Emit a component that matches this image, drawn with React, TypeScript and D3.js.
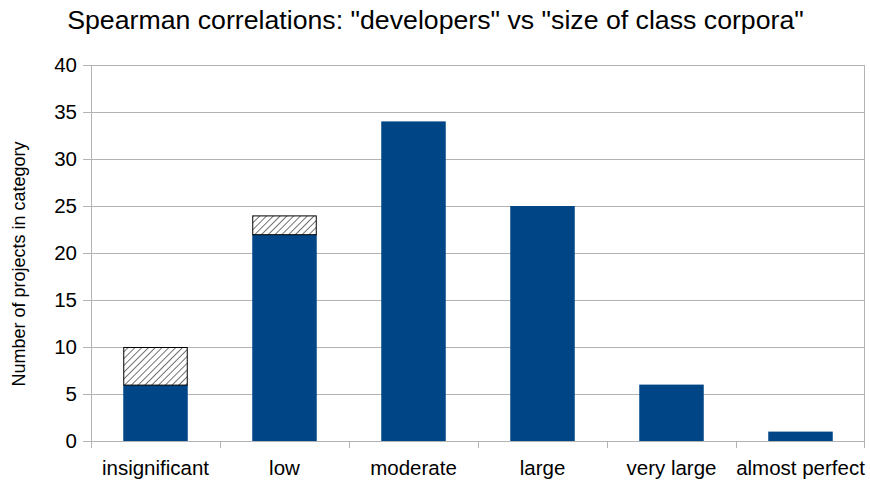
import { useEffect, useRef } from "react";
import * as d3 from "d3";

const categories = ["insignificant", "low", "moderate", "large", "very large", "almost perfect"];
const significant = [6, 22, 34, 25, 6, 1];
const hatched = [4, 2, 0, 0, 0, 0];
const yTicks = [0, 5, 10, 15, 20, 25, 30, 35, 40];

const App = () => {
  const ref = useRef<SVGSVGElement | null>(null);

  useEffect(() => {
    const width = 870;
    const height = 481;
    const margin = { top: 65, right: 5, bottom: 40, left: 91 };
    const innerW = width - margin.left - margin.right;
    const innerH = height - margin.top - margin.bottom;
    const font = "'Liberation Sans', Arial, sans-serif";

    const svg = d3.select(ref.current);
    svg.selectAll("*").remove();

    const defs = svg.append("defs");
    const hs = 4.8;
    const pat = defs
      .append("pattern")
      .attr("id", "hatch")
      .attr("patternUnits", "userSpaceOnUse")
      .attr("width", hs)
      .attr("height", hs)
      .attr("patternTransform", "rotate(45)");
    pat.append("rect").attr("width", hs).attr("height", hs).attr("fill", "#fff");
    pat.append("line").attr("x1", 0).attr("y1", 0).attr("x2", 0).attr("y2", hs).attr("stroke", "#000").attr("stroke-width", 1.1);

    const g = svg.append("g").attr("transform", `translate(${margin.left},${margin.top})`);

    const x = d3.scaleBand().domain(categories).range([0, innerW]).paddingInner(0.5).paddingOuter(0.25);
    const y = d3.scaleLinear().domain([0, 40]).range([innerH, 0]);

    // grid
    g.selectAll(".grid")
      .data(yTicks)
      .enter()
      .append("line")
      .attr("x1", -8)
      .attr("x2", innerW)
      .attr("y1", (d) => Math.round(y(d)) + 0.5)
      .attr("y2", (d) => Math.round(y(d)) + 0.5)
      .attr("stroke", "#b3b3b3");

    g.append("line")
      .attr("x1", 0.5)
      .attr("x2", 0.5)
      .attr("y1", 0)
      .attr("y2", innerH + 7)
      .attr("stroke", "#b3b3b3");
    g.append("line")
      .attr("x1", innerW - 0.5)
      .attr("x2", innerW - 0.5)
      .attr("y1", 0)
      .attr("y2", innerH + 7)
      .attr("stroke", "#b3b3b3");

    const step = innerW / categories.length;
    g.selectAll(".xtick")
      .data(d3.range(1, categories.length))
      .enter()
      .append("line")
      .attr("x1", (i) => Math.round(i * step) + 0.5)
      .attr("x2", (i) => Math.round(i * step) + 0.5)
      .attr("y1", innerH)
      .attr("y2", innerH + 7)
      .attr("stroke", "#b3b3b3");

    g.selectAll(".bar")
      .data(categories)
      .enter()
      .append("rect")
      .attr("x", (d) => x(d)!)
      .attr("width", x.bandwidth())
      .attr("y", (d, i) => y(significant[i]))
      .attr("height", (d, i) => innerH - y(significant[i]))
      .attr("fill", "#004586");

    g.selectAll(".hatch")
      .data(categories.filter((d, i) => hatched[i] > 0))
      .enter()
      .append("rect")
      .attr("x", (d) => x(d)! + 0.5)
      .attr("width", x.bandwidth() - 1)
      .attr("y", (d) => {
        const i = categories.indexOf(d);
        return y(significant[i] + hatched[i]) + 0.5;
      })
      .attr("height", (d) => {
        const i = categories.indexOf(d);
        return y(significant[i]) - y(significant[i] + hatched[i]);
      })
      .attr("fill", "url(#hatch)")
      .attr("stroke", "#000")
      .attr("stroke-width", 1);

    g.selectAll(".ylab")
      .data(yTicks)
      .enter()
      .append("text")
      .attr("x", -14)
      .attr("y", (d) => y(d))
      .attr("dy", "0.35em")
      .attr("text-anchor", "end")
      .attr("font-family", font)
      .attr("font-size", 20.5)
      .text((d) => d);

    g.selectAll(".xlab")
      .data(categories)
      .enter()
      .append("text")
      .attr("x", (d) => x(d)! + x.bandwidth() / 2)
      .attr("y", innerH + 34)
      .attr("text-anchor", "middle")
      .attr("font-family", font)
      .attr("font-size", 20.5)
      .text((d) => d);

    svg
      .append("text")
      .attr("transform", `translate(25,264) rotate(-90)`)
      .attr("text-anchor", "middle")
      .attr("font-family", font)
      .attr("font-size", 18)
      .text("Number of projects in category");

    svg
      .append("text")
      .attr("x", 435.5)
      .attr("y", 29)
      .attr("text-anchor", "middle")
      .attr("font-family", font)
      .attr("font-size", 26.7)
      .text('Spearman correlations: "developers" vs "size of class corpora"');
  }, []);

  return <svg ref={ref} width={870} height={481} style={{ position: "absolute", left: 0, top: 0 }}></svg>;
};

export default App;
